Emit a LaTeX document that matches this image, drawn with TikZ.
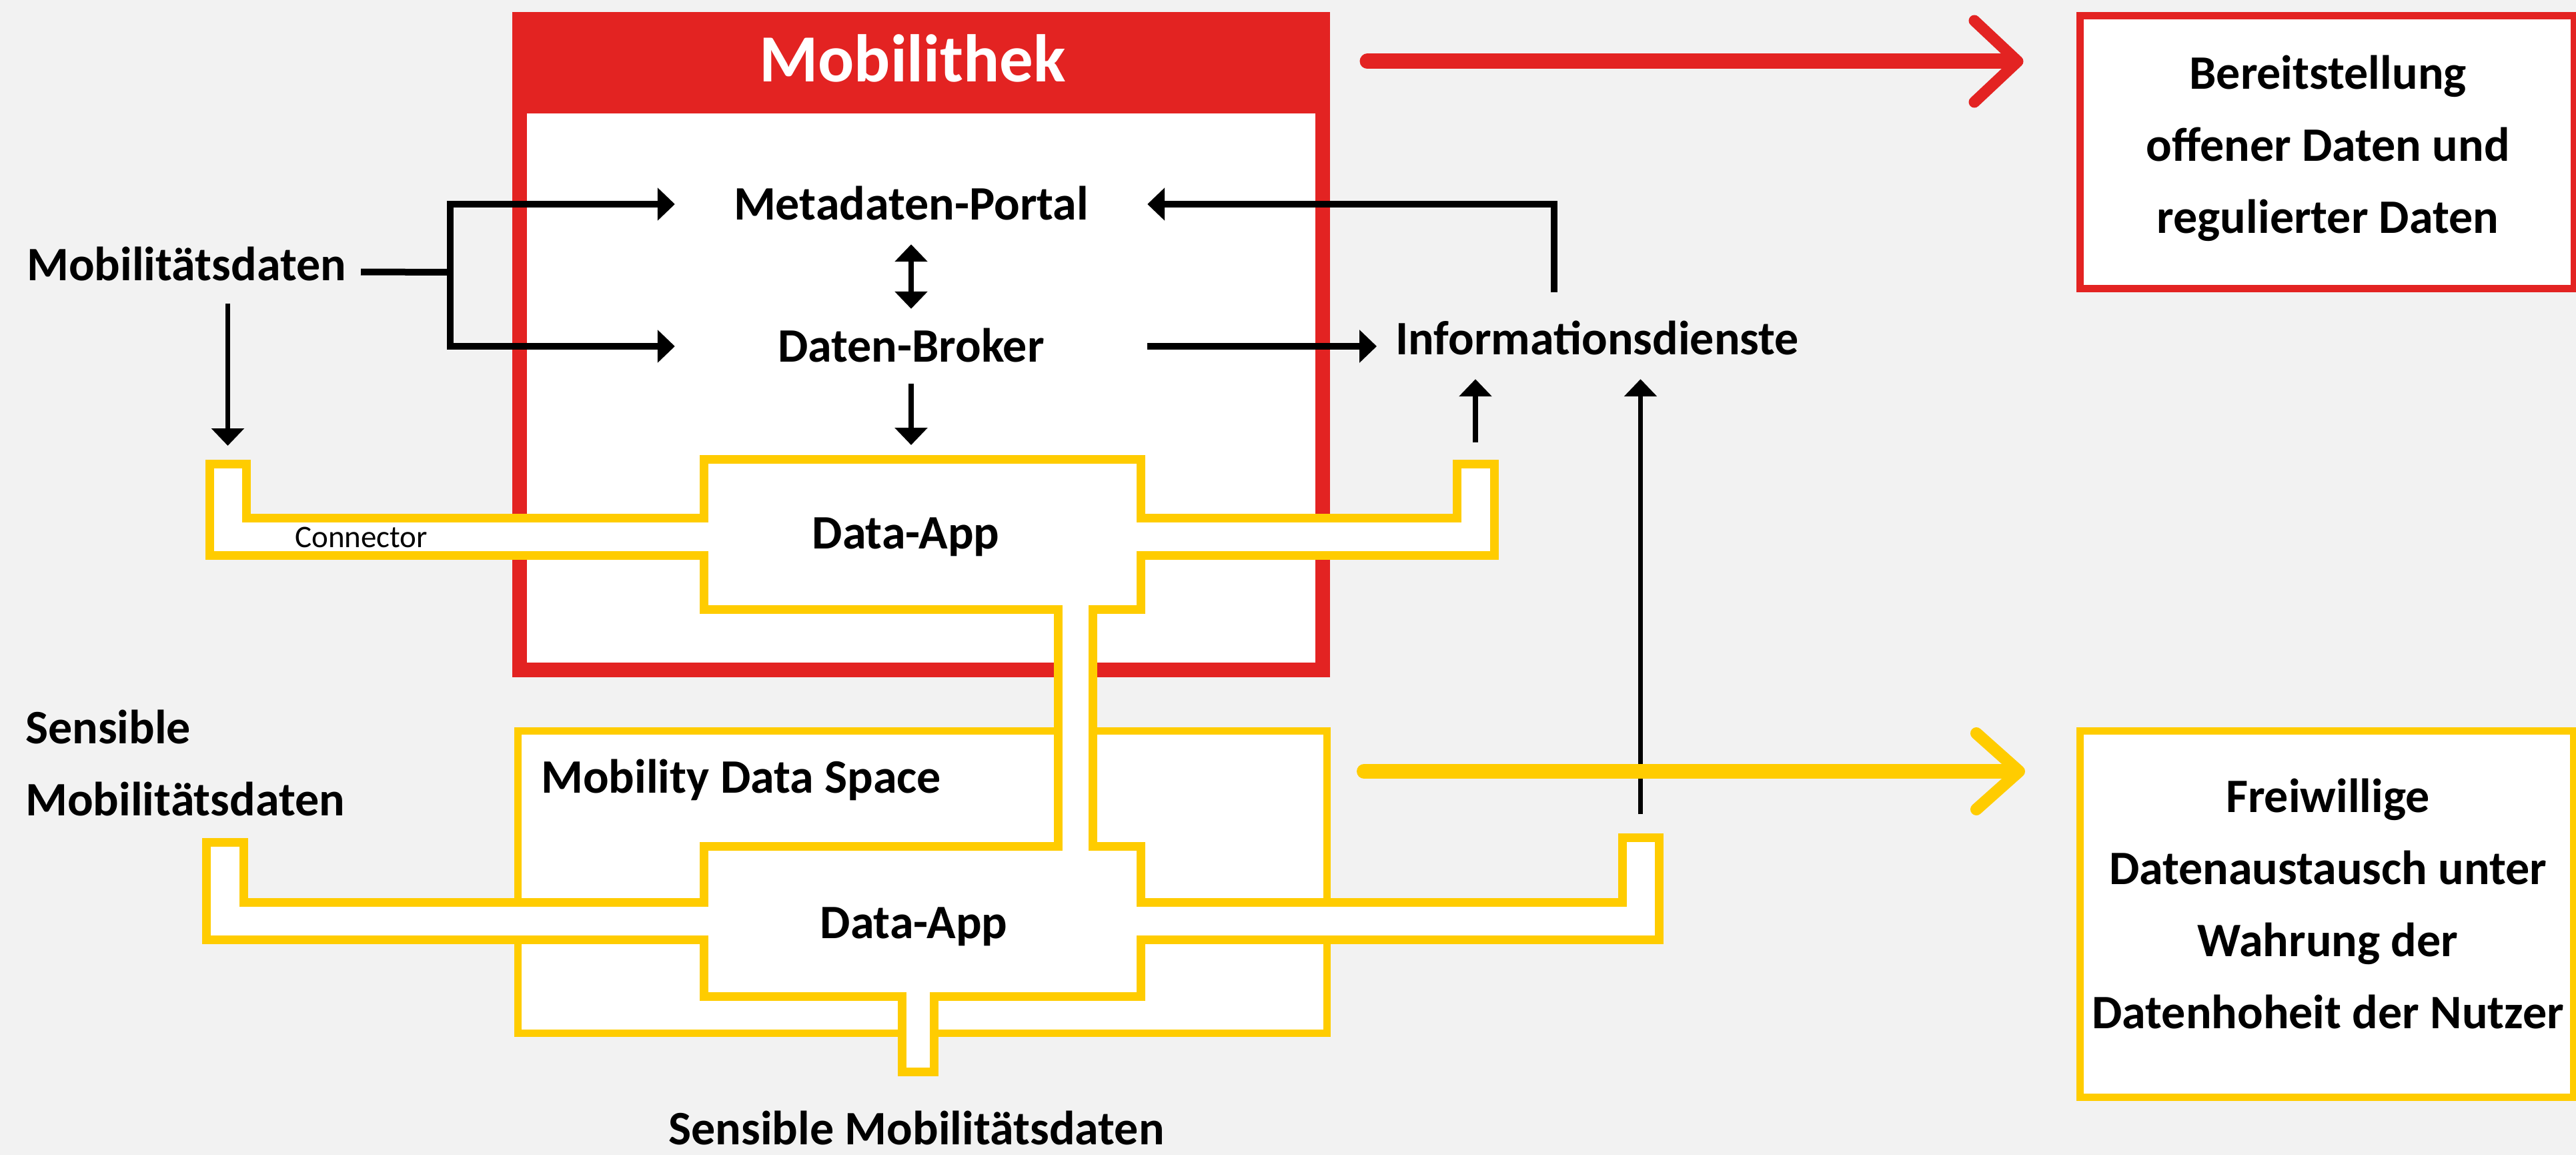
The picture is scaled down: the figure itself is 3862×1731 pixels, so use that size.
\documentclass[tikz,border=0pt]{standalone}
\usepackage{fontspec}
\setmainfont{Carlito}
\usetikzlibrary{arrows.meta}
\definecolor{mred}{HTML}{E32322}
\definecolor{myel}{HTML}{FFCC00}
\definecolor{bgc}{HTML}{F2F2F2}
\begin{document}
\begin{tikzpicture}[x=1pt,y=-1pt,
  lbl/.style={font=\fontsize{72}{108}\selectfont\bfseries, text height=46pt, text depth=0pt, inner sep=0pt},
  mlbl/.style={font=\fontsize{72}{108}\selectfont\bfseries, inner sep=0pt},
  blk/.style={draw=black, line width=10pt},
  blkv/.style={draw=black, line width=7.5pt},
  tip/.style={-{Triangle[length=26pt,width=48pt]}},
  dtip/.style={{Triangle[length=26pt,width=48pt]}-{Triangle[length=26pt,width=48pt]}},
  conn/.style={draw=myel, fill=white, line width=13pt, line join=miter},
  outbox/.style={draw=#1, fill=white, line width=11pt, inner sep=0pt},
]
\useasboundingbox (0,0) rectangle (3862,1731);
\fill[bgc] (0,0) rectangle (3862,1731);

% Mobilithek frame
\fill[mred] (768,18) rectangle (1994,1015);
\fill[white] (790,170) rectangle (1972,993);
\node[font=\fontsize{101}{120}\selectfont\bfseries, text=white, text height=64pt, text depth=0pt, inner sep=0pt] (mobi) at (1368,91) {Mobilithek};

% Mobility Data Space box
\draw[myel, fill=white, line width=11pt] (776,1095) rectangle (1989,1548);
\node[lbl, anchor=west] (mds) at (811,1165.5) {Mobility Data Space};

% connector shape
\draw[conn] (314,695) -- (369,695) -- (369,776) -- (1055,776) -- (1055,688) -- (1710,688)
  -- (1710,776) -- (2184,776) -- (2184,695) -- (2240,695) -- (2240,832) -- (1710,832)
  -- (1710,913) -- (1638,913) -- (1638,1268) -- (1710,1268) -- (1710,1352) -- (2432,1352)
  -- (2432,1255) -- (2487,1255) -- (2487,1408) -- (1710,1408) -- (1710,1493) -- (1400,1493)
  -- (1400,1606) -- (1352,1606) -- (1352,1493) -- (1055,1493) -- (1055,1408) -- (309,1408)
  -- (309,1262) -- (365,1262) -- (365,1352) -- (1055,1352) -- (1055,1268) -- (1586,1268)
  -- (1586,913) -- (1055,913) -- (1055,832) -- (314,832) -- cycle;
\coordinate (stubL1) at (341.5,695);
\coordinate (stubR1) at (2212,695);
\coordinate (stubR2) at (2459.5,1255);
\coordinate (da1top) at (1364,688);

\node[lbl] (app1) at (1358,799) {Data-App};
\node[lbl] (app2) at (1370,1383) {Data-App};
\node[font=\fontsize{47}{56}\selectfont, text height=30pt, text depth=0pt, inner sep=0pt, anchor=west] (conlbl) at (442,805) {Connector};

% inner labels
\node[lbl, minimum width=708pt, minimum height=120pt] (meta) at (1366,306) {Metadaten-Portal};
\node[lbl, minimum width=708pt, minimum height=112pt] (broker) at (1366,519) {Daten-Broker};
\node[lbl, inner xsep=28pt, inner ysep=37pt] (info) at (2394.5,508) {Informationsdienste};
\node[lbl, inner xsep=22pt, inner ysep=34pt] (mobd) at (279.5,397.5) {Mobilitätsdaten};
\node[mlbl, align=left, anchor=north west] (smd) at (38,1064) {Sensible\\Mobilitätsdaten};
\node[lbl] (smd2) at (1374,1692) {Sensible Mobilitätsdaten};

% black connectors
\coordinate (split) at (675,408);
\coordinate (infout) at (2330,438);
\draw[blk] ([yshift=-10pt]mobd.east) -- (split);
\draw[blk, tip] (split) |- (meta.west);
\draw[blk, tip] (split) |- (broker.west);
\draw[blk, tip] (infout) |- (meta.east);
\draw[blk, tip] (broker.east) -- (broker.east -| info.west);
\draw[blkv, dtip] (meta.south) -- (broker.north);
\draw[blkv, tip, shorten >=21pt] (broker.south) -- (broker.south |- da1top);
\draw[blkv, tip, shorten >=27pt] (mobd.south -| stubL1) -- (stubL1);
\draw[blkv, tip, shorten <=32pt] (stubR1) -- (info.south -| stubR1);
\draw[blkv, tip, shorten <=35pt] (stubR2) -- (info.south -| stubR2);

% right boxes
\node[outbox=mred, minimum width=741pt, minimum height=408pt] (bereit) at (3488.5,228) {};
\node[mlbl, align=center] (bereittxt) at (3490,222) {Bereitstellung\\offener Daten und\\regulierter Daten};
\node[outbox=myel, minimum width=740pt, minimum height=549pt] (frei) at (3488,1369.5) {};
\node[mlbl, align=center] (freitxt) at (3490,1354) {Freiwillige\\Datenaustausch unter\\Wahrung der\\Datenhoheit der Nutzer};

% big arrows
\coordinate (redstart) at (2050,92);
\coordinate (redtip) at (3025,92);
\draw[mred, line width=23pt, line cap=round] (redstart) -- ([xshift=-8pt]redtip);
\draw[mred, line width=17pt, line cap=round, line join=round] (2960,31) -- (redtip) -- (2960,153);
\coordinate (yelstart) at (2045,1156);
\coordinate (yeltip) at (3027,1156);
\draw[myel, line width=22pt, line cap=round] (yelstart) -- ([xshift=-8pt]yeltip);
\draw[myel, line width=18pt, line cap=round, line join=round] (2963,1099) -- (yeltip) -- (2963,1213);
\end{tikzpicture}
\end{document}
